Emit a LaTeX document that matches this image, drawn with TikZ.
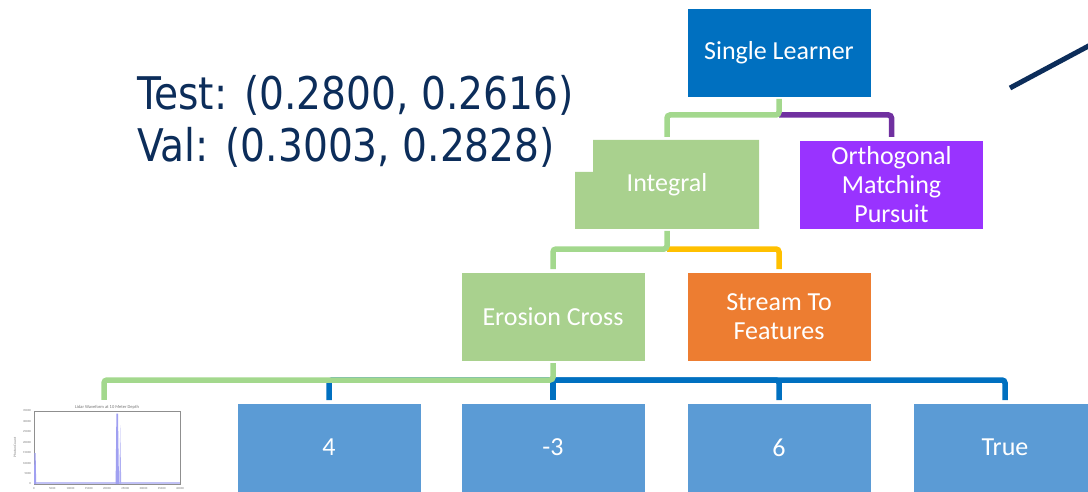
\documentclass[tikz,border=0pt]{standalone}
\usepackage{fontspec}
\usepackage{graphicx}
\setmainfont{Carlito}
\newfontfamily\scorefont{DejaVu Sans}
\usetikzlibrary{backgrounds}

\definecolor{rootblue}{RGB}{0,112,192}
\definecolor{leafgreen}{RGB}{169,209,142}
\definecolor{linkgreen}{RGB}{163,216,141}
\definecolor{omppurple}{RGB}{153,51,255}
\definecolor{linkpurple}{RGB}{112,48,160}
\definecolor{streamorange}{RGB}{237,125,49}
\definecolor{linkyellow}{RGB}{255,192,0}
\definecolor{valueblue}{RGB}{91,155,213}
\definecolor{linkblue}{RGB}{0,112,192}
\definecolor{scorenavy}{RGB}{12,45,90}
\definecolor{plotgray}{RGB}{115,115,115}
\definecolor{plotblue}{RGB}{120,120,235}

\tikzset{
  box/.style={rectangle, minimum width=184pt, minimum height=89pt, inner sep=0pt,
    outer sep=0pt, draw=white, line width=0.8pt, text=white, align=center,
    font=\fontsize{26}{29}\selectfont},
  link/.style={line width=5.5pt, rounded corners=3pt, shorten >=3pt},
  score/.style={anchor=base west, inner sep=0pt, text=scorenavy,
    font=\scorefont\fontsize{45}{52}\selectfont},
  ticklabel/.style={inner sep=0pt, text=plotgray, font=\fontsize{3}{3}\selectfont},
}

\begin{document}
\begin{tikzpicture}[x=1pt, y=-1pt]
\useasboundingbox (0,0) rectangle (1088,492);

% scores
\node[score] (test) at (137,110) {\scalebox{0.87}[1]{Test: (0.2800, 0.2616)}};
\node[score] (val) at (137,162) {\scalebox{0.87}[1]{Val: (0.3003, 0.2828)}};

% tree nodes
\node[box, fill=rootblue] (sl) at (779,52.5) {Single Learner};
\node[box, draw=none] (integral) at (667,184.5) {Integral};
\node[box, fill=omppurple] (omp) at (891.5,184.5) {Orthogonal\\Matching\\Pursuit};
\node[box, fill=leafgreen] (erosion) at (553,316.5) {Erosion Cross};
\node[box, fill=streamorange] (stream) at (779,316.5) {Stream To\\Features};
\node[box, fill=valueblue] (v4) at (329,447.5) {4};
\node[box, fill=valueblue] (vm3) at (553,447.5) {-3};
\node[box, fill=valueblue] (v6) at (779,447.5) {6};
\node[box, fill=valueblue] (vtrue) at (1005,447.5) {True};
\node[rectangle, minimum width=188pt, minimum height=89pt, inner sep=0pt] (thumb) at (104,447.5) {};

% notched body of the Integral box
\begin{scope}[on background layer]
\fill[leafgreen] ([xshift=18pt]integral.north west) -- (integral.north east)
  -- (integral.south east) -- (integral.south west)
  -- ([yshift=-32pt]integral.north west)
  -- ([xshift=18pt,yshift=-32pt]integral.north west) -- cycle;
\end{scope}

% connectors
\draw[link, linkpurple] ([yshift=-18pt]sl.south) -| (omp.north);
\draw[link, linkgreen, shorten <=2pt] (sl.south) -- ++(0,18) -| (integral.north);

\draw[link, linkyellow] ([yshift=-20pt]integral.south) -| (stream.north);
\draw[link, linkgreen, shorten <=2pt] (integral.south) -- ++(0,20) -| (erosion.north);

\draw[link, linkblue] ([yshift=-19pt]erosion.south) -| (vtrue.north);
\draw[link, linkblue] ([yshift=-19pt]erosion.south) -| (v6.north);
\draw[link, linkblue] ([yshift=-19pt]erosion.south) -| (v4.north);
\draw[link, linkblue] ([yshift=-19pt]erosion.south) -- (vm3.north);
\draw[link, linkgreen, shorten <=2pt] (erosion.south) -- ++(0,19) -| (thumb.north);

% waveform thumbnail
\draw[plotgray!80, line width=0.6pt] (34,411) rectangle (180,484);
\node[ticklabel, font=\fontsize{4.5}{4.5}\selectfont] (ptitle) at (107,407.5) {Lidar Waveform at 10 Meter Depth};
\node[ticklabel, rotate=90, font=\fontsize{3.5}{3.5}\selectfont] (pylabel) at (15,447.5) {Photon Count};
\foreach \v [count=\i from 0] in {0,5000,10000,15000,20000,25000,30000,35000}
  \node[ticklabel, anchor=east] at (31,484-\i*10.43) {\v};
\foreach \v [count=\i from 0] in {0,5000,10000,15000,20000,25000,30000,35000,40000}
  \node[ticklabel] at (34+\i*18.25,488.5) {\v};
\fill[plotblue!45] (34,481.5) rectangle (180,484);
\fill[plotblue!70] (34,484) -- (34.4,453) -- (35.6,453) -- (36.2,484) -- cycle;
\fill[plotblue!70] (115.6,484) -- (116.4,413.5) -- (118,413.5) -- (119,484) -- cycle;
\fill[plotblue!60] (119.3,484) -- (120.2,425) -- (121.2,484) -- cycle;

% pointer stroke at the right edge
\coordinate (penA) at (1010,88);
\coordinate (penB) at (1096,42);
\draw[scorenavy, line width=5pt] (penA) -- (penB);
\end{tikzpicture}
\end{document}
